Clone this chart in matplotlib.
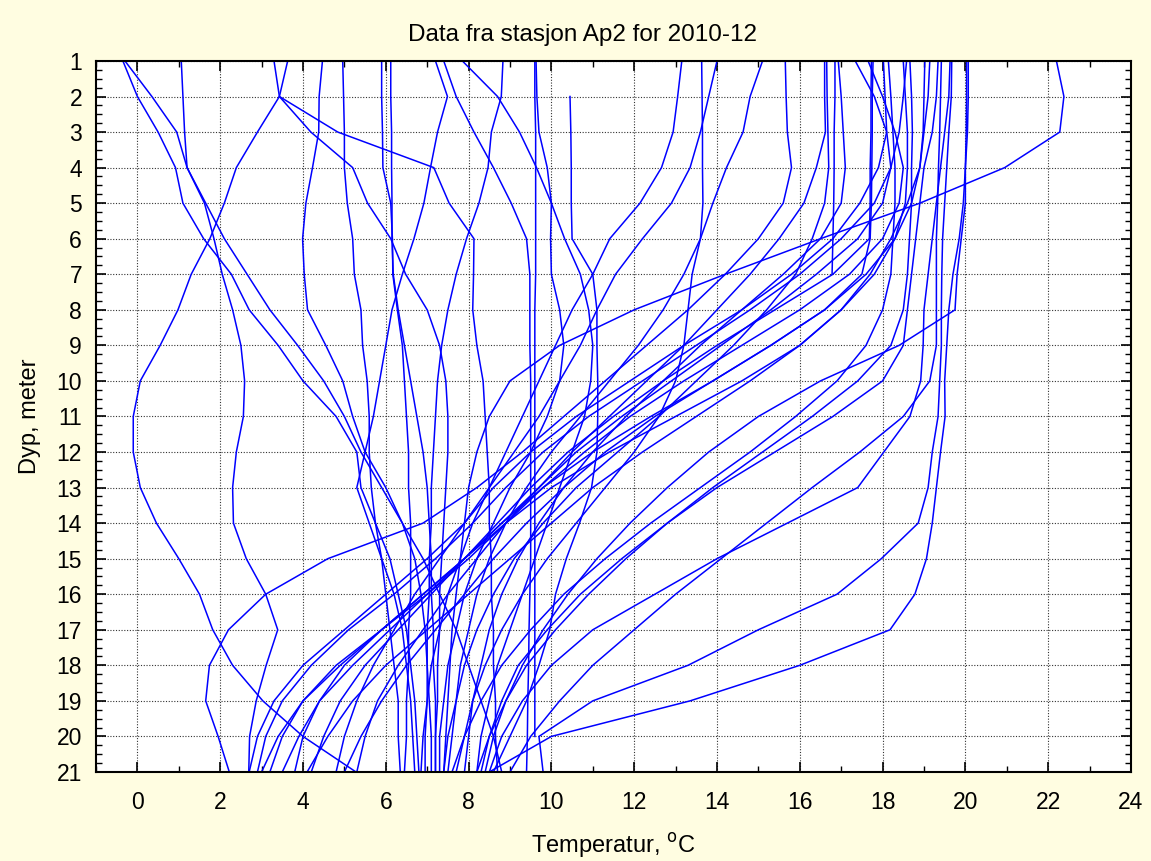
import numpy as np
import matplotlib
matplotlib.use("Agg")
import matplotlib.pyplot as plt
from matplotlib.ticker import MultipleLocator

plt.rcParams['font.family'] = ['Liberation Sans', 'DejaVu Sans']

nan = np.nan
depths = list(range(1, 22))

# temperature profiles (deg C) for depth 1..21 m
p01 = [3.3, 3.43, 2.9, 2.39, 2.1, 1.75, 1.3, 0.98, 0.55, 0.07, -0.1, -0.1, 0.07, 0.46, 1.0, 1.5, 1.82, 2.3, 3.03, 4.0, 5.28]
p02 = [1.06, 1.1, 1.14, 1.2, 1.62, 1.85, 2.05, 2.3, 2.5, 2.59, 2.56, 2.39, 2.3, 2.32, 2.63, 3.1, 3.39, 3.11, 2.87, 2.71, 2.69]
p03 = [-0.35, 0.0, 0.5, 0.92, 1.1, 1.6, 2.27, 2.7, 3.4, 4.0, 4.8, 5.3, 5.4, 5.75, 6.1, 6.3, 6.5, 6.6, 6.7, 6.75, 6.8]
p04 = [-0.3, 0.35, 0.95, 1.2, 1.65, 2.1, 2.65, 3.2, 3.87, 4.5, 5.0, 5.4, 5.9, 6.4, 6.9, 7.3, 7.7, 8.0, 8.3, 8.6, 8.8]
p05 = [3.63, 3.43, 4.84, 7.16, 7.53, 8.13, 8.12, 8.1, 8.2, 8.35, 8.4, 8.45, 8.5, 8.5, 8.55, 8.55, 8.6, 8.6, 8.65, 8.65, 8.7]
p06 = [nan, 3.43, 4.19, 5.2, 5.56, 6.12, 6.48, 7.0, 7.3, 7.45, 7.5, 7.5, 7.45, 7.4, 7.35, 7.3, 7.3, 7.25, 7.25, 7.2, 7.2]
p07 = [4.47, 4.39, 4.38, 4.23, 4.07, 3.99, 4.03, 4.11, 4.55, 4.96, 5.2, 5.5, 6.0, 6.4, 6.7, 6.85, 6.95, 7.0, 7.05, 7.1, 7.1]
p08 = [4.96, 4.98, 5.0, 5.0, 5.07, 5.2, 5.24, 5.4, 5.44, 5.55, 5.6, 5.6, 5.65, 5.75, 5.9, 6.0, 6.1, 6.2, 6.3, 6.3, 6.35]
p09 = [5.9, 5.9, 5.92, 5.93, 6.12, 6.16, 6.17, 6.28, 6.4, 6.45, 6.5, 6.55, 6.55, 6.6, 6.6, 6.6, 6.55, 6.55, 6.5, 6.5, 6.45]
p10 = [6.12, 6.12, 6.14, 6.14, 6.15, 6.15, 6.18, 6.3, 6.45, 6.6, 6.75, 6.9, 7.0, 7.05, 7.1, 7.1, 7.15, 7.15, 7.2, 7.2, 7.2]
p11 = [7.2, 7.49, 7.25, 7.08, 6.92, 6.68, 6.4, 6.15, 6.0, 5.85, 5.7, 5.5, 5.3, 5.6, 5.9, 6.2, 6.4, 6.5, 6.6, 6.65, 6.7]
p12 = [7.4, 7.7, 8.13, 8.6, 9.03, 9.4, 9.48, 9.48, 9.48, 9.5, 9.5, 9.5, 9.5, 9.5, 9.5, 9.48, 9.46, 9.45, 9.43, 9.42, 9.4]
p13 = [7.85, 8.7, 9.23, 9.64, 10.0, 10.32, 10.7, 10.9, 11.0, 10.95, 10.8, 10.5, 10.2, 9.9, 9.6, 9.3, 9.0, 8.7, 8.5, 8.3, 8.2]
p14 = [nan, 10.45, 10.47, 10.48, 10.48, 10.5, 11.0, 11.1, 11.1, 11.12, 11.12, 11.1, 10.97, 10.68, 10.36, 10.1, 9.96, 9.7, 9.4, 9.0, 8.6]
p15 = [8.83, 8.79, 8.55, 8.47, 8.25, 7.95, 7.7, 7.5, 7.35, 7.25, 7.2, 7.15, 7.1, 7.1, 7.05, 7.05, 7.0, 7.0, 7.0, 6.95, 6.95]
p16 = [9.6, 9.6, 9.62, 9.62, 9.62, 9.62, 9.62, 9.6, 9.6, 9.6, 9.6, 9.6, 9.6, 9.6, 9.6, 9.6, 9.6, 9.6, 9.6, 9.6, nan]
p17 = [9.63, 9.65, 9.7, 9.9, 10.0, 9.98, 10.0, 10.2, 10.3, 10.2, 9.9, 9.5, 9.0, 8.6, 8.2, 7.9, 7.7, 7.5, 7.4, 7.3, 7.3]

w01 = [13.15, 13.05, 12.94, 12.66, 12.14, 11.41, 11.0, 10.5, 10.1, 9.7, 9.3, 8.9, 8.5, 8.1, 7.8, 7.5, 7.3, 7.1, 7.0, 6.9, 6.85]
w02 = [13.63, 13.64, 13.65, 13.65, 13.66, 13.6, 13.4, 13.3, 13.2, 13.0, 12.6, 12.0, 11.3, 10.6, 9.9, 9.3, 8.8, 8.4, 8.1, 7.9, 7.7]
w03 = [14.0, 13.8, 13.6, 13.35, 12.9, 12.2, 11.55, 11.1, 10.7, 10.2, 9.7, 9.1, 8.5, 7.9, 7.3, 6.7, 6.2, 5.7, 5.3, 5.0, 4.8]
w04 = [15.1, 14.8, 14.63, 14.23, 13.9, 13.6, 13.2, 12.7, 12.1, 11.4, 10.7, 10.0, 9.4, 8.9, 8.5, 8.2, 8.0, 7.8, 7.7, 7.6, 7.5]
w05 = [15.65, 15.67, 15.7, 15.8, 15.6, 15.0, 14.2, 13.3, 12.3, 11.3, 10.3, 9.3, 8.2, 6.9, 4.6, 3.1, 2.2, 1.74, 1.65, 1.95, 2.22]
w06 = [16.6, 16.6, 16.62, 16.4, 16.1, 15.5, 14.8, 14.0, 13.2, 12.3, 11.4, 10.5, 9.7, 8.9, 8.2, 7.5, 6.9, 6.3, 5.8, 5.5, 5.3]
w07 = [16.65, 16.66, 16.68, 16.7, 16.6, 16.3, 15.9, 15.2, 14.4, 13.5, 12.6, 11.6, 10.6, 9.8, 9.1, 8.6, 8.2, 7.9, 7.7, 7.5, 7.4]
w08 = [16.85, 16.85, 16.83, 16.83, 16.82, 16.8, 16.78, nan, nan, nan, nan, nan, nan, nan, nan, nan, nan, nan, nan, nan, nan]
w09 = [16.93, 17.0, 17.05, 17.1, 17.0, 16.5, 15.6, 14.6, 13.6, 12.7, 11.8, 11.0, 10.3, 9.7, 9.2, 8.8, 8.5, 8.3, 8.1, 8.0, 7.9]

r01 = [22.2, 22.38, 22.28, 20.95, 18.9, 16.5, 14.2, 12.0, 10.2, 9.0, 8.5, 8.2, 8.0, 7.9, 7.8, 7.7, 7.6, 7.55, 7.5, 7.45, 7.4]
r02 = [20.07, 20.07, 20.05, 20.0, 20.0, 19.9, 19.8, 19.75, 18.4, 16.5, 15.0, 13.8, 12.8, 11.9, 11.1, 10.4, 9.8, 9.3, 8.9, 8.6, 8.4]
r03 = [20.03, 20.03, 20.02, 20.0, 19.95, 19.85, 19.7, 19.6, 19.55, 19.5, 19.51, 19.4, 19.3, 19.2, 19.06, 18.78, 18.18, 16.0, 13.35, 10.0, 8.5]
r04 = [19.67, 19.66, 19.6, 19.55, 19.5, 19.45, 19.43, 19.42, 19.42, 19.38, 19.34, 19.2, 19.1, 18.86, 17.97, 16.9, 15.0, 13.3, 11.0, 9.7, 9.8]
r05 = [19.63, 19.6, 19.5, 19.4, 19.3, 19.2, 19.1, 19.0, 18.98, 18.92, 18.66, 18.03, 17.4, 15.7, 14.0, 12.5, 11.0, 10.0, 9.3, 8.8, 8.5]
r06 = [19.42, 19.4, 19.38, 19.35, 19.33, 19.3, 19.3, 19.3, 19.3, 19.14, 18.5, 17.45, 16.3, 15.2, 14.1, 13.0, 12.0, 11.0, 10.2, 9.5, 9.0]
r07 = [19.34, 19.3, 19.2, 19.0, 18.9, 18.8, 18.7, 18.6, 18.5, 18.0, 16.8, 15.4, 14.0, 12.8, 11.7, 10.7, 9.9, 9.2, 8.8, 8.5, 8.3]
r08 = [19.14, 19.1, 19.0, 18.9, 18.6, 18.2, 17.7, 17.0, 16.0, 14.6, 13.0, 11.4, 10.0, 8.9, 7.9, 6.9, 5.9, 4.9, 4.0, 3.4, 3.0]
r09 = [19.02, 19.0, 18.98, 18.9, 18.7, 18.3, 17.6, 16.6, 15.3, 13.9, 12.4, 11.0, 9.8, 8.8, 7.9, 7.0, 6.1, 5.2, 4.4, 3.9, 3.5]
r10 = [18.66, 18.7, 18.72, 18.7, 18.7, 18.65, 18.6, 18.5, 18.2, 17.4, 16.3, 15.1, 13.9, 12.8, 11.8, 10.9, 10.1, 9.4, 8.9, 8.5, 8.2]
r11 = [18.58, 18.5, 18.4, 18.2, 17.8, 17.0, 16.0, 14.8, 13.5, 12.2, 10.9, 9.8, 8.9, 8.1, 7.2, 6.2, 5.1, 4.2, 3.5, 3.1, 2.9]
r12 = [18.5, 18.55, 18.6, 18.6, 18.55, 18.3, 17.8, 17.0, 16.0, 14.8, 13.5, 12.2, 11.0, 10.0, 9.0, 8.0, 7.0, 6.0, 5.2, 4.6, 4.1]
r13 = [18.14, 18.2, 18.25, 18.3, 18.3, 18.25, 18.2, 18.0, 17.6, 16.9, 15.9, 14.8, 13.6, 12.4, 11.3, 10.3, 9.5, 8.8, 8.3, 7.9, 7.6]
r14 = [18.02, 18.06, 18.1, 17.9, 17.45, 16.8, 15.8, 14.6, 13.2, 11.9, 10.6, 9.5, 8.6, 7.9, 7.0, 6.0, 5.0, 4.0, 3.3, 2.9, 2.7]
r15 = [17.77, 17.75, 17.75, 17.74, 17.73, 17.7, 17.5, 16.6, 15.3, 13.9, 12.5, 11.3, 10.3, 9.4, 8.6, 7.9, 7.2, 6.5, 5.9, 5.4, 5.0]
r16 = [17.73, 17.72, 17.72, 17.7, 17.7, 17.68, 16.8, 15.4, 14.0, 12.7, 11.5, 10.4, 9.5, 8.7, 7.9, 7.1, 6.3, 5.5, 4.9, 4.5, 4.2]
r17 = [17.65, 18.0, 18.3, 18.5, 18.4, 18.0, 17.2, 16.0, 14.6, 13.2, 11.9, 10.8, 9.8, 8.9, 8.0, 7.0, 5.9, 4.8, 4.0, 3.5, 3.2]
r18 = [17.34, 17.8, 18.1, 18.2, 18.0, 17.4, 16.4, 15.3, 14.1, 12.9, 11.7, 10.6, 9.7, 8.8, 7.9, 6.9, 5.9, 5.0, 4.4, 4.0, 3.8]

profiles = [p01, p02, p03, p04, p05, p06, p07, p08, p09, p10, p11, p12, p13, p14, p15, p16, p17,
            w01, w02, w03, w04, w05, w06, w07, w08, w09,
            r01, r02, r03, r04, r05, r06, r07, r08, r09, r10, r11, r12, r13, r14, r15, r16, r17, r18]

bg = '#FFFDE1'
fig = plt.figure(figsize=(11.51, 8.61), dpi=100, facecolor=bg)
ax = fig.add_axes([0.0834, 0.1034, 0.8992, 0.8258])
ax.set_facecolor('white')

for prof in profiles:
    ax.plot(prof, depths, color='#0000FF', lw=1.1)

ax.set_xlim(-1, 24)
ax.set_ylim(21, 1)
ax.xaxis.set_major_locator(MultipleLocator(2))
ax.xaxis.set_minor_locator(MultipleLocator(1))
ax.yaxis.set_major_locator(MultipleLocator(1))
ax.yaxis.set_minor_locator(MultipleLocator(0.25))
ax.tick_params(which='both', direction='in', top=True, right=True, labelsize=16.5, colors='black')
ax.tick_params(which='major', length=7, width=1.2)
ax.tick_params(which='minor', length=4, width=1.0)
ax.tick_params(axis='x', which='major', pad=14)
ax.tick_params(axis='y', which='major', pad=10)
ax.grid(True, which='major', color='#333333', linestyle=(0, (1, 1.5)), linewidth=0.8)
for sp in ax.spines.values():
    sp.set_linewidth(1.5)

fig.text(0.506, 0.959, 'Data fra stasjon Ap2 for 2010-12', fontsize=17.5, ha='center', va='center')
ax.set_xlabel('Temperatur, $^{\\rm o}$C', fontsize=17, labelpad=12)
ax.set_ylabel('Dyp, meter', fontsize=17, labelpad=11)

fig.savefig('out.png', dpi=100, facecolor=bg)
